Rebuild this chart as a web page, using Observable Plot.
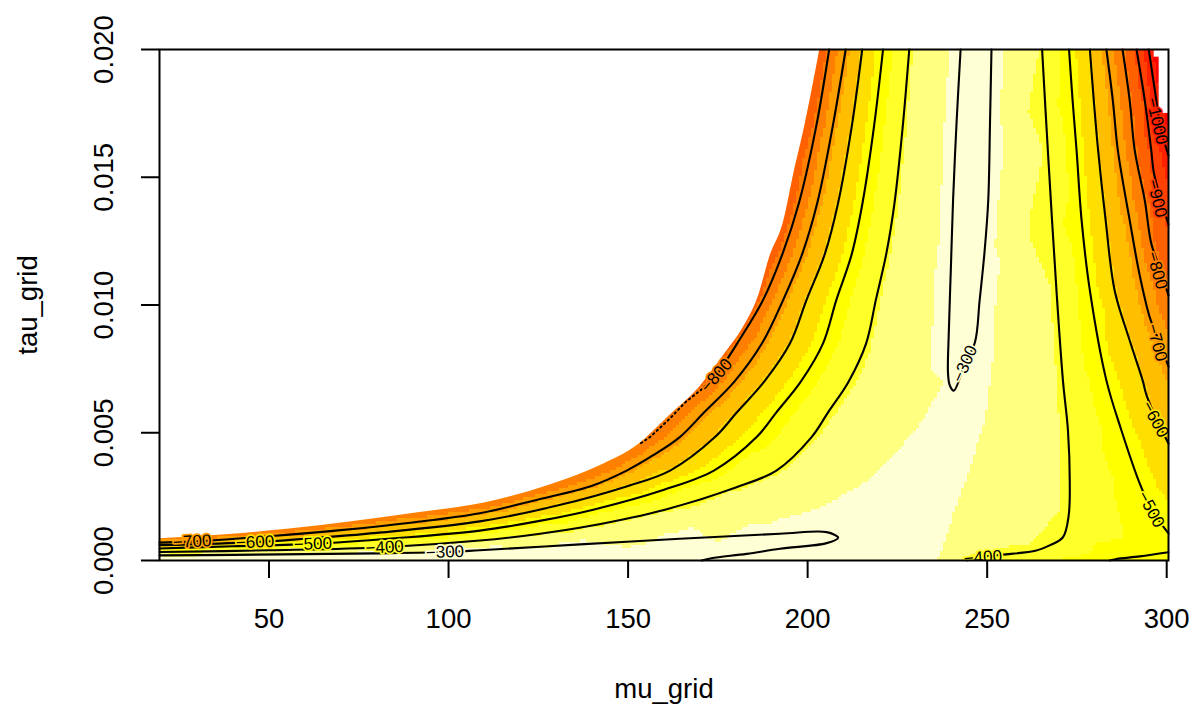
<!DOCTYPE html>
<html>
<head>
<meta charset="utf-8">
<script src="https://cdn.jsdelivr.net/npm/d3@7"></script>
<script src="https://cdn.jsdelivr.net/npm/@observablehq/plot@0.6"></script>
<style>
  html, body { margin: 0; padding: 0; background: #ffffff; }
  #chart { width: 1196px; height: 711px; }
</style>
</head>
<body>
<div id="chart"></div>
<script>
// ---------- axes ----------
const muTicks = [50, 100, 150, 200, 250, 300];
const tauTicks = [0.000, 0.005, 0.010, 0.015, 0.020];
const muRange = [19.5, 300.5];
const tauRange = [0, 0.02];

// ---------- colour bins (heat.colors(12)) ----------
const breaks = [-1032, -961, -890, -819, -748, -677, -606, -535, -464, -393, -322];
const heatColors = ["#FF0000", "#FF2000", "#FF4000", "#FF6000", "#FF8000", "#FF9F00",
                    "#FFBF00", "#FFDF00", "#FFFF00", "#FFFF2A", "#FFFF80", "#FFFFD5"];

// ---------- contour lines: [mu, tau] ----------
const c300U = [[242.6,0.02],[241.5,0.0172],[240.5,0.01409],[239.9,0.01148],[239.3,0.00887],[239.1,0.00731],
  [239.6,0.00685],[240.7,0.00665],[243.8,0.0077],[246.6,0.00854],[247.9,0.01018],[249.3,0.01213],
  [250.3,0.01409],[250.8,0.0172],[251.2,0.02]];
const c300N = [[19.5,0.0002],[40,0.00022],[60,0.00025],[80,0.00028],[99,0.00033],[108.7,0.0004],
  [136.6,0.00063],[164.4,0.00085],[192.3,0.001045],[205.3,0.00111],[208.5,0.00089],[205.3,0.00068],
  [192.3,0.00046],[183,0.00026],[173.2,0.00009],[170.5,0]];
const c400L = [[228.3,0.02],[226.5,0.017],[224.2,0.014],[221.9,0.012],[219.0,0.0102],[216.3,0.0085],
  [211.4,0.007],[205.7,0.0058],[201.1,0.00483],[191.3,0.00352],[180,0.00286],[160,0.00198],
  [140,0.00137],[125,0.00104],[108.7,0.00078],[82.2,0.00052],[50,0.0004],[19.5,0.00033]];
const c500L = [[221.0,0.02],[218.5,0.017],[215.3,0.014],[212.3,0.012],[208.0,0.0102],[204.3,0.0085],
  [198.1,0.007],[191.3,0.0058],[185.8,0.00483],[173.9,0.00352],[160,0.00277],[140,0.00198],
  [125,0.00154],[108.7,0.00117],[85,0.00087],[62.2,0.00065],[40,0.00056],[19.5,0.00047]];
const c600L = [[215.2,0.02],[212.3,0.017],[208.5,0.014],[204.8,0.012],[199.7,0.0102],[195.1,0.0085],
  [187.9,0.007],[180.3,0.0058],[174.2,0.00483],[161.7,0.00352],[150,0.00292],[130,0.00214],
  [108.7,0.00153],[80,0.00108],[60,0.00085],[46.1,0.00072],[19.5,0.0006]];
const c700L = [[210.6,0.02],[207.0,0.017],[202.7,0.014],[198.5,0.012],[193.2,0.0102],[187.3,0.0085],
  [179.6,0.007],[171.2,0.0058],[164.4,0.00483],[157,0.00412],[149.6,0.00352],[140,0.00293],
  [125,0.00239],[108.7,0.00185],[90,0.00149],[70,0.00119],[50,0.00095],[28.6,0.00074],[19.5,0.0007]];
const c800L = [[206.0,0.02],[202.4,0.017],[197.6,0.014],[193.0,0.012],[187.6,0.0102],[180.4,0.0085],
  [174.6,0.00724]];
const c800D = [[174.6,0.00724],[170.5,0.0067],[166,0.0062],[161.6,0.00555],[156.1,0.00483],[153.3,0.00457]];
const c400R = [[265.3,0.02],[266.9,0.01605],[269.3,0.01057],[271.1,0.00705],[272.5,0.00509],[273.0,0.00313],
  [272.7,0.00176],[271.1,0.00091],[267.4,0.00059],[263.7,0.00039],[254.4,0.00023],[248.8,0.00016],
  [245.5,0.00008],[244.5,0]];
const c500R = [[272.8,0.02],[273.8,0.018],[274.9,0.01605],[276.3,0.01331],[278.6,0.01057],[283.2,0.00705],
  [287.4,0.00509],[292.5,0.00301],[295.8,0.002],[300.5,0.00106]];
const c500B = [[300.5,0.00032],[292.5,0.00016],[286.0,0.00006],[284.1,0]];
const c600R = [[278.6,0.02],[279.7,0.018],[280.9,0.01605],[283.0,0.01331],[285.5,0.01057],[289.7,0.00861],
  [293.3,0.00705],[294.4,0.00646],[297.2,0.00552],[300.5,0.00458]];
const c700R = [[283.2,0.02],[285.0,0.018],[286.4,0.01605],[289.7,0.01331],[292.5,0.01115],[295.3,0.00951],
  [298.0,0.00853],[300.5,0.00759]];
const c800R = [[287.7,0.02],[289.7,0.018],[291.1,0.01605],[293.9,0.01409],[295.7,0.01241],[298.3,0.01135],
  [300.5,0.01037]];
const c900R = [[291.6,0.02],[293.9,0.018],[295.7,0.01605],[296.4,0.01519],[298.3,0.01417],[300.5,0.01315]];
const c1000R = [[295.0,0.02],[296.7,0.0184],[298.3,0.01695],[300.5,0.01585]];

// ---------- other surface values: [mu, tau, loglik] ----------
const ridgePts = [[246.7,0.02,-295],[246.3,0.017,-294.5],[245.8,0.014,-294.5],[245.3,0.011,-296],
  [244.8,0.0085,-298],[244.3,0.0072,-299.5],[241,0.0055,-304],[236,0.0043,-307],[230,0.0031,-310],
  [222,0.002,-311],[215,0.0014,-306]];
const creamEdgePts = [[238.3,0.007,-321],[232.6,0.0055,-321],[225.7,0.0043,-321],[217.3,0.0031,-321],
  [203.4,0.002,-321],[250.7,0.007,-321],[249.3,0.0055,-321],[246.5,0.0043,-321],[243.8,0.0031,-321],
  [241,0.002,-321],[238.2,0.0008,-321],[236.8,0.0002,-321],[232,0.0004,-316],[226,0.0009,-313]];
const nosePts = [[200,0.0009,-294],[185,0.0007,-288],[160,0.0005,-280],[130,0.0003,-272],
  [100,0.00015,-264],[60,0.0001,-262],[19.5,0.0001,-275]];
const bottomPts = [[19.5,0,-255],[60,0,-252],[100,0,-252],[130,0,-260],[155,0,-278],[195,0,-308],
  [225,0,-315],[237,0,-323],[262,0,-450],[300.5,0,-525]];
const rightPts = [[292,0.0007,-478],[300.5,0.0007,-488],[300.5,0.018,-1065],[300.5,0.02,-1146]];
const naFill = [[19.5,0.02,-1400],[110,0.02,-1100],[19.5,0.005,-1100]];

// ---------- edge of the blank (non-finite) region ----------
const naEdge = [[19.5,0.00085],[37,0.001],[55,0.00122],[73,0.00152],[92,0.00188],[110,0.00225],
  [128,0.00295],[142,0.0037],[153,0.00455],[161,0.0056],[170,0.0068],[177,0.0081],[182,0.0091],
  [186.2,0.0103],[189.5,0.0119],[193.2,0.0132],[196.4,0.0153],[199.2,0.017],[203.4,0.02]];
const edgeLL = [-812,-812,-812,-812,-812,-815,-815,-815,-818,-822,-826,-830,-835,-840,-845,-850,-855,-862,-870];
const naCorner = [[296.5,0.0197],[297.9,0.0175]];

// ---------- contour labels: [mu, tau, level] and their angles ----------
const labelPts = [[28.6,0.00074,-700],[46.1,0.00072,-600],[62.2,0.00065,-500],[82.2,0.00052,-400],
  [99,0.00033,-300],[174.6,0.00724,-800],[243.8,0.0077,-300],[295.6,0.002,-500],[296.8,0.00552,-600],
  [297.3,0.00853,-700],[297.3,0.01135,-800],[297.3,0.01417,-900],[297.3,0.0172,-1000]];
const labelAngle = [-3,-2,-2,-3,-2,-49,-66,62,62,75,74,76,77];
const bottomLabel = [[248.8,0.00012,-400]];

// ---------- build tables ----------
const contourList = [
  [c300U,-300],[c300N,-300],[c400L,-400],[c500L,-500],[c600L,-600],[c700L,-700],[c800L,-800],
  [c400R,-400],[c500R,-500],[c500B,-500],[c600R,-600],[c700R,-700],[c800R,-800],[c900R,-900],[c1000R,-1000]
];
const lineRows = contourList.flatMap(([pts, level], i) => pts.map(([mu, tau]) => ({id: i, level, mu, tau})));
const surfRows = [
  ...lineRows.map(d => ({mu: d.mu, tau: d.tau, ll: d.level})),
  ...c800D.map(([mu, tau]) => ({mu, tau, ll: -800})),
  ...naEdge.map(([mu, tau], i) => ({mu, tau, ll: edgeLL[i]})),
  ...[ridgePts, creamEdgePts, nosePts, bottomPts, rightPts, naFill].flat().map(([mu, tau, ll]) => ({mu, tau, ll}))
];
const minus = s => String(s).replace("-", "\u2212");
const labelRows = labelPts.map(([mu, tau, level], i) => ({mu, tau, level, angle: labelAngle[i], text: minus(level)}));

const font = "Liberation Sans, Arial, Helvetica, sans-serif";
const axisFont = 27.5;
const labelFont = 17;

const chart = Plot.plot({
  width: 1196,
  height: 711,
  marginLeft: 159,
  marginRight: 28,
  marginTop: 49,
  marginBottom: 151,
  x: {domain: muRange},
  y: {domain: tauRange},
  color: {type: "threshold", domain: breaks, range: heatColors},
  style: {fontFamily: font, fontSize: "24px", background: "#ffffff", color: "#000000"},
  marks: [
    Plot.raster(surfRows, {x: "mu", y: "tau", fill: "ll", interpolate: "barycentric", pixelSize: 3, imageRendering: "pixelated"}),
    Plot.areaY(naEdge, {x: d => d[0], y1: d => d[1], y2: tauRange[1], fill: "#ffffff", curve: "monotone-x"}),
    Plot.rect(naCorner, {x1: d => d[0], x2: muRange[1], y1: d => d[1], y2: tauRange[1], fill: "#ffffff"}),
    Plot.line(lineRows, {x: "mu", y: "tau", z: "id", stroke: "#000000", strokeWidth: 2.1, curve: "catmull-rom"}),
    Plot.line(c800D, {x: d => d[0], y: d => d[1], stroke: "#000000", strokeWidth: 2, strokeDasharray: "1.5,3.5"}),
    Plot.text(labelRows, {x: "mu", y: "tau", text: "text", rotate: "angle", fontSize: labelFont, fill: "#000000",
      stroke: "level", strokeWidth: 3.5, paintOrder: "stroke", strokeLinejoin: "round", clip: true}),
    Plot.text(bottomLabel, {x: d => d[0], y: d => d[1], text: d => minus(d[2]), rotate: -4, fontSize: labelFont, fill: "#000000",
      stroke: d => d[2], strokeWidth: 3.5, paintOrder: "stroke", clip: true}),
    Plot.frame({stroke: "#000000", strokeWidth: 2}),
    Plot.axisX(muTicks, {tickSize: 18, tickFormat: () => "", label: null, strokeWidth: 2}),
    Plot.axisY(tauTicks, {tickSize: 18, tickFormat: () => "", label: null, strokeWidth: 2}),
    Plot.text(muTicks, {x: d => d, text: d => String(d), frameAnchor: "bottom", dy: 67, fontSize: axisFont, textAnchor: "middle"}),
    Plot.text(tauTicks, {y: d => d, text: d => d3.format(".3f")(d), frameAnchor: "left", dx: -55, rotate: -90,
      fontSize: axisFont, textAnchor: "middle"}),
    Plot.text(["mu_grid"], {text: d => d, frameAnchor: "bottom", dy: 137, fontSize: axisFont, textAnchor: "middle"}),
    Plot.text(["tau_grid"], {text: d => d, frameAnchor: "left", dx: -131, rotate: -90, fontSize: axisFont, textAnchor: "middle"})
  ]
});
document.getElementById("chart").appendChild(chart);
</script>
</body>
</html>
